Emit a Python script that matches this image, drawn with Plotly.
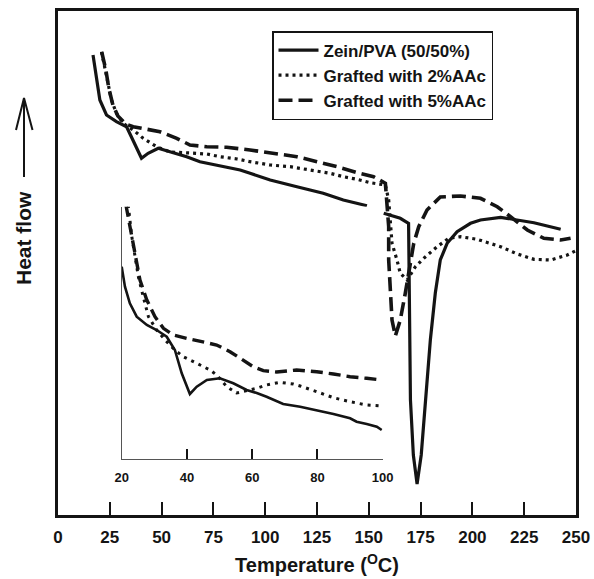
import plotly.graph_objects as go

# ---------------- data (main DSC curves, arbitrary heat-flow units) ----------------
x_pva = [16.9, 18.6, 20.2, 23.4, 28.2, 33.1, 36.1, 40.3, 43.5, 48.4, 54.0, 62.1, 68.5, 78.2, 87.9,
         92.7, 102.4, 115.3, 128.0, 137.7, 149.1, None,
         157.2, 165.2, 169.2, 169.7, 170.1, 171.5, 173.3, 175.3, 177.3, 179.7, 182.1, 184.5, 187.8,
         192.6, 199.1, 203.9, 213.6, 220.0, 229.7, 242.6]
y_pva = [460, 435, 415, 400, 393.3, 388.3, 375, 356.7, 361.7, 366.7, 363.3, 358.3, 353.3, 349, 345,
         341.7, 335, 328.3, 321.7, 315, 309.3, None,
         301.7, 296.7, 291.7, 175, 115, 60, 31, 60, 115, 175, 222, 255, 271.7,
         283.3, 291.7, 295, 297.7, 295.7, 292.3, 285.7]

x_2aac = [21.0, 22.6, 24.2, 25.8, 28.2, 31.4, 36.3, 41.1, 47.6, 54.0, 63.7, 71.8, 78.2, 86.4, 92.7,
          102.4, 112.0, 121.7, 131.4, 137.8, 144.3, 150.7, 158.0, 159.6, 160.4, 161.2, 163.6, 165.2,
          168.5, 172.5, 176.5, 183.0, 188.6, 194.2, 202.3, 213.6, 221.7, 229.7, 237.8, 245.8, 249.9]
y_2aac = [463.3, 448.3, 431.7, 415, 401.7, 391.7, 385, 376.7, 368.3, 363, 362, 361, 358.3, 356, 353.3,
          350, 348.3, 345, 341.7, 338.3, 335.7, 332.3, 330, 315, 288.3, 271.7, 255, 241.7,
          235, 248.3, 256.7, 268.3, 276.7, 278.3, 275.7, 268.3, 261, 255.7, 255, 260, 264.3]

x_5aac = [21.1, 23.1, 24.5, 26.5, 28.9, 32.7, 36.3, 41.1, 49.2, 57.3, 63.7, 71.8, 81.4, 92.7, 104.0,
          115.3, 125.0, 134.6, 144.3, 152.3, 158.0, 158.8, 159.6, 159.6, 160.4, 161.2, 162.8, 165.2,
          167.6, 170.1, 171.7, 174.1, 178.1, 184.5, 194.2, 203.9, 212.0, 218.4, 226.5, 234.5, 242.6, 247.4]
y_5aac = [463, 445, 427, 410, 399, 391, 388.3, 386.7, 383.3, 376.7, 370, 368.3, 367.7, 365, 361.7,
          358.3, 353.3, 348.3, 342.3, 338.3, 331.7, 311.7, 288.3, 255, 221.7, 195, 179, 195,
          221.7, 255, 271.7, 288.3, 305, 318, 319, 316.7, 308.3, 298.3, 285, 276.7, 275, 276.7]

# ---------------- data (inset, 20-100 °C) ----------------
xi_pva = [20.0, 21.0, 22.5, 24.6, 27.7, 30.7, 33.8, 36.3, 38.4, 40.9, 43.0, 46.1, 50.1, 54.2, 58.3,
          61.4, 64.4, 69.5, 74.7, 79.8, 84.9, 90.0, 92.0, 95.1, 98.2, 99.7]
yi_pva = [192.3, 172.3, 155.7, 142.3, 134, 129, 122.3, 109, 85.7, 65, 72.3, 79, 80.7, 75.7, 69,
          66, 62.3, 55, 52.3, 49, 45, 40.7, 37.3, 35, 32.3, 29]

xi_2aac = [22.0, 22.5, 23.1, 24.1, 25.1, 26.6, 28.2, 30.7, 33.3, 36.3, 38.9, 43.0, 47.1, 49.1, 52.2,
           55.2, 58.3, 61.4, 64.4, 68.5, 72.6, 74.7, 79.8, 84.9, 90.0, 95.1, 99.7]
yi_2aac = [254, 239, 222.3, 202.3, 182.3, 162.3, 142.3, 129, 119, 109, 102.3, 95.7, 89, 84, 72.3,
           66, 68, 70.7, 74, 76.7, 75, 73, 67.3, 61.3, 57.3, 54, 53]

xi_5aac = [21.3, 22.5, 24.1, 25.6, 27.7, 30.2, 32.8, 35.8, 39.9, 45.0, 49.1, 53.2, 57.3, 60.3, 63.4,
           67.5, 73.6, 79.8, 84.9, 90.0, 95.1, 99.7]
yi_5aac = [254, 232.3, 205.7, 179, 159, 142.3, 130.7, 124, 120.7, 117.3, 114, 107.3, 99, 92.3, 88.3,
           87, 89, 87.3, 85, 82.3, 80.7, 79]

series_names = ["Zein/PVA (50/50%)", "Grafted with 2%AAc", "Grafted with 5%AAc"]
main_ticks = [0, 25, 50, 75, 100, 125, 150, 175, 200, 225, 250]
inset_ticks = [20, 40, 60, 80, 100]

# ---------------- figure ----------------
FONT = "Arial, Liberation Sans, sans-serif"
INK = "#141414"
styles = [dict(color=INK, width=3.2, dash="solid"),
          dict(color=INK, width=3.2, dash="3px,4px"),
          dict(color=INK, width=3.6, dash="14px,6px")]

fig = go.Figure()
for (xs, ys), name, st in zip([(x_pva, y_pva), (x_2aac, y_2aac), (x_5aac, y_5aac)], series_names, styles):
    fig.add_trace(go.Scatter(x=xs, y=ys, mode="lines", name=name, line=st,
                             connectgaps=False, xaxis="x", yaxis="y"))

inset_styles = [dict(color=INK, width=2.6, dash="solid"),
                dict(color=INK, width=3.0, dash="3px,5px"),
                dict(color=INK, width=3.4, dash="12px,6px")]
for (xs, ys), st in zip([(xi_pva, yi_pva), (xi_2aac, yi_2aac), (xi_5aac, yi_5aac)], inset_styles):
    fig.add_trace(go.Scatter(x=xs, y=ys, mode="lines", line=st, showlegend=False,
                             xaxis="x2", yaxis="y2"))

W, H = 594, 579
L, R, T, B = 58, 18, 11, 64
pw, ph = W - L - R, H - T - B

def px_x(p):
    return (p - L) / pw

def px_y(p):
    return (H - B - p) / ph

fig.update_layout(
    width=W, height=H,
    margin=dict(l=L, r=R, t=T, b=B, autoexpand=False),
    paper_bgcolor="white", plot_bgcolor="white",
    font=dict(family=FONT, color=INK),
    xaxis=dict(range=[0, 250], tickvals=main_ticks, ticks="inside", ticklen=13, tickwidth=2,
               tickcolor=INK, showline=True, linewidth=3, linecolor=INK, mirror=True,
               showgrid=False, zeroline=False, ticklabelstandoff=5,
               tickfont=dict(size=17, weight="bold", family=FONT),
               title=dict(text="Temperature (<sup>O</sup>C)", standoff=12,
                          font=dict(size=20, weight="bold", family=FONT))),
    yaxis=dict(range=[0, 504], showticklabels=False, ticks="", showline=True, linewidth=3,
               linecolor=INK, mirror=True, showgrid=False, zeroline=False),
    xaxis2=dict(domain=[px_x(121.7), px_x(382.7)], anchor="y2", range=[20, 100],
                tickvals=inset_ticks, ticks="inside", ticklen=10, tickwidth=2, tickcolor=INK,
                showline=True, linewidth=1.2, linecolor="#555555", showgrid=False, zeroline=False,
                ticklabelstandoff=6, tickfont=dict(size=13, weight="bold", family=FONT)),
    yaxis2=dict(domain=[px_y(459), px_y(206.7)], anchor="x2", range=[0, 252.3],
                showticklabels=False, ticks="", showline=True, linewidth=1.2, linecolor="#555555",
                showgrid=False, zeroline=False),
    legend=dict(x=px_x(272), y=px_y(31), xanchor="left", yanchor="top",
                bgcolor="white", bordercolor=INK, borderwidth=1.5,
                font=dict(size=17, weight="bold", family=FONT),
                tracegroupgap=0, itemwidth=40),
    showlegend=True,
)

# y-axis label with arrow
fig.add_annotation(text="Heat flow", xref="paper", yref="paper", x=px_x(24), y=px_y(238),
                   showarrow=False, textangle=-90, font=dict(size=21, weight="bold", family=FONT),
                   xanchor="center", yanchor="middle")
ax0 = px_x(24)
fig.add_shape(type="line", xref="paper", yref="paper", x0=ax0, x1=ax0, y0=px_y(177), y1=px_y(99),
              line=dict(color=INK, width=2))
fig.add_shape(type="path", xref="paper", yref="paper",
              path=f"M {px_x(16)} {px_y(130)} L {ax0} {px_y(98)} L {px_x(32.5)} {px_y(130)}",
              line=dict(color=INK, width=2))

fig.write_html("out.html", config={"displayModeBar": False},
               post_script="document.body.style.margin='0';")
